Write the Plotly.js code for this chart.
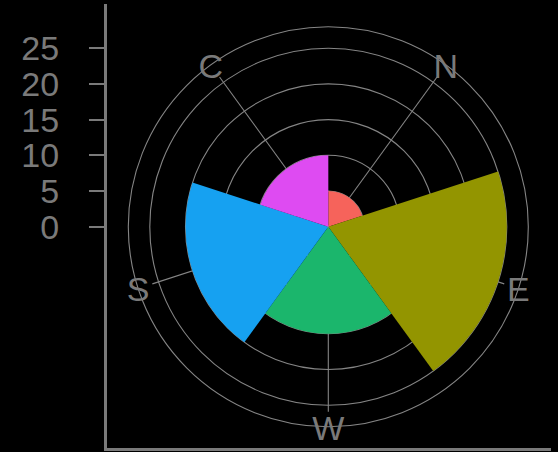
<!DOCTYPE html>
<html>
<head>
<meta charset="utf-8">
<script src="https://cdn.plot.ly/plotly-3.0.1.min.js"></script>
<style>html,body{margin:0;padding:0;background:#000;}</style>
</head>
<body>
<div id="chart" style="width:558px;height:452px;"></div>
<script>
// Data
var directions = ['N', 'E', 'W', 'S', 'C'];
var counts = [5, 25, 15, 20, 10];
var barColors = ['#F6635B', '#939500', '#1BB66C', '#16A1F1', '#DE4BF2'];
var radialTicks = [0, 5, 10, 15, 20, 25];

var grey = '#7a7a7a';
var gridGrey = '#858585';
var pxPerUnit = 7.14;
var labelR = 28;
var labelShift = 4.5; // px, visual centring of cap letters

var traces = [
  {
    type: 'scatter', x: [], y: [], xaxis: 'x', yaxis: 'y',
    showlegend: false, hoverinfo: 'skip'
  },
  {
    type: 'barpolar', subplot: 'polar',
    r: counts, theta: directions,
    marker: { color: barColors, line: { width: 0 } },
    width: directions.map(function(){ return 1; }),
    showlegend: false, hoverinfo: 'skip'
  },
  {
    type: 'scatterpolar', subplot: 'polar2', mode: 'markers',
    r: [], theta: [], marker: { size: 0, opacity: 0 },
    showlegend: false, hoverinfo: 'skip'
  },
  {
    type: 'scatterpolar', subplot: 'polar3', mode: 'text',
    r: directions.map(function(){ return labelR; }), theta: directions,
    text: directions, cliponaxis: false,
    textfont: { family: 'Liberation Sans, Arial, sans-serif', size: 34, color: grey },
    showlegend: false, hoverinfo: 'skip'
  }
];

function angular(extra) {
  var a = {
    type: 'category', categoryarray: directions,
    direction: 'clockwise', rotation: 54,
    showline: false, showticklabels: false, ticks: '', showgrid: false
  };
  for (var k in extra) a[k] = extra[k];
  return a;
}

var layout = {
  width: 558, height: 452,
  margin: { l: 107, r: 7, t: 4, b: 4, pad: 0 },
  paper_bgcolor: '#000', plot_bgcolor: '#000',
  showlegend: false,
  xaxis: {
    range: [0, 1], showline: true, linecolor: grey, linewidth: 3,
    showgrid: false, zeroline: false, showticklabels: false, ticks: ''
  },
  yaxis: {
    range: [-(448 - 226.7) / pxPerUnit, (226.7 - 4) / pxPerUnit],
    tickmode: 'array', tickvals: radialTicks, ticktext: radialTicks.map(String),
    ticks: 'outside', ticklen: 15, tickwidth: 2, tickcolor: grey,
    ticklabelstandoff: 23,
    tickfont: { family: 'Liberation Sans, Arial, sans-serif', size: 34, color: grey },
    showline: true, linecolor: grey, linewidth: 3,
    showgrid: false, zeroline: false
  },
  polar: {
    domain: { x: [36.3 / 444, 406.3 / 444], y: [36.3 / 444, 406.3 / 444] },
    bgcolor: 'rgba(0,0,0,0)',
    bargap: 0,
    radialaxis: {
      range: [0, 185 / pxPerUnit], tickvals: radialTicks.slice(1),
      showticklabels: false, ticks: '', showline: false,
      showgrid: true, gridcolor: gridGrey, gridwidth: 1.1
    },
    angularaxis: angular({ showgrid: true, gridcolor: gridGrey, gridwidth: 1.1 })
  },
  polar2: {
    domain: { x: [21.3 / 444, 421.3 / 444], y: [21.3 / 444, 421.3 / 444] },
    bgcolor: 'rgba(0,0,0,0)',
    radialaxis: { range: [0, 200 / pxPerUnit], visible: false, showgrid: false },
    angularaxis: angular({ showline: true, linecolor: gridGrey, linewidth: 1.1 })
  },
  polar3: {
    domain: { x: [21.3 / 444, 421.3 / 444], y: [(21.3 - labelShift) / 444, (421.3 - labelShift) / 444] },
    bgcolor: 'rgba(0,0,0,0)',
    radialaxis: { range: [0, 200 / pxPerUnit], visible: false, showgrid: false },
    angularaxis: angular({})
  }
};

Plotly.newPlot('chart', traces, layout, { displayModeBar: false, staticPlot: true });
</script>
</body>
</html>
